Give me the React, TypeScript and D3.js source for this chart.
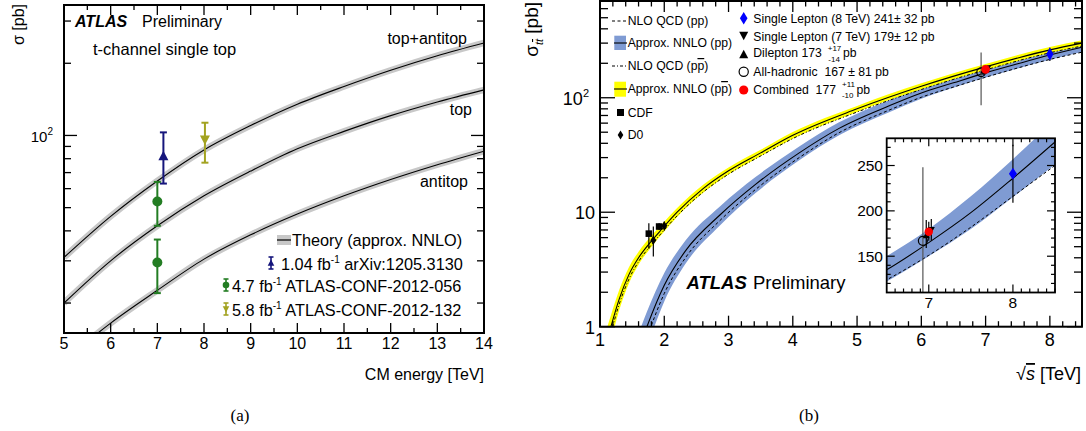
import React from 'react';
import * as d3 from 'd3';

const FONT = "'Liberation Sans', Arial, Helvetica, sans-serif";
const SERIF = "'Liberation Serif', 'DejaVu Serif', serif";

// ===== Panel (a): t-channel single top =====
const energiesA = [5, 6, 7, 8, 9, 10, 11, 12, 13, 14];
const sigmaTopAntitop = [31, 46, 64.6, 87, 110, 135, 160, 187, 215, 243];
const sigmaTop = [20, 30, 42, 56, 71, 88, 104, 121, 138, 155];
const sigmaAntitop = [11.5, 16.5, 22.6, 30.5, 38.5, 47, 56, 65.5, 75.5, 86];
const curveNames = ['top+antitop', 'top', 'antitop'];

const measE = [7.13, 7.0, 7.0, 8.02];
const measValue = [82, 53, 29.5, 96];
const measHigh = [103, 64, 36.8, 113];
const measLow = [63, 42, 22, 77];
const measColor = ['#16167c', '#237d23', '#237d23', '#a3a321'];
const measShape = ['up', 'circle', 'circle', 'down'];

const legendALumi = ['1.04', '4.7', '5.8'];
const legendARef = ['arXiv:1205.3130', 'ATLAS-CONF-2012-056', 'ATLAS-CONF-2012-132'];
const legendAColor = ['#16167c', '#237d23', '#a3a321'];
const legendAShape = ['up', 'circle', 'down'];

// ===== Panel (b): ttbar cross-section =====
const ppE = [1.55, 1.73, 2.0, 2.33, 2.87, 3.42, 4.1, 4.72, 5.5, 6.0, 6.5, 7.0, 7.5, 8.0, 8.5];
const ppNNLO = [0.52, 1.0, 2.3, 4.6, 9.5, 17.5, 33, 54, 85, 110, 135, 165, 198, 236, 276];
const ppNNLOHi = [0.73, 1.35, 2.94, 5.66, 11.3, 20.3, 37.6, 61, 95.2, 122, 150, 180, 216, 257, 301];
const ppNNLOLo = [0.31, 0.65, 1.66, 3.54, 7.7, 14.7, 28.4, 47, 74.8, 98, 122, 150, 180, 215, 251];
const ppNLO = [0.4, 0.8, 1.95, 4.0, 8.5, 15.8, 30, 49.5, 78, 101, 124, 151, 182, 216, 250];

const ppbarE = [1.1, 1.17, 1.3, 1.45, 1.6, 1.8, 1.96, 2.2, 2.6, 3.0, 3.5, 4.0, 5.0, 6.0, 7.0, 8.0, 8.5];
const ppbarNNLO = [0.72, 1.0, 1.75, 2.85, 4.0, 5.6, 7.1, 10.0, 16.0, 23.0, 33, 47, 80, 126, 186, 262, 300];
const ppbarNNLOHi = [0.94, 1.26, 2.1, 3.31, 4.52, 6.22, 7.81, 10.9, 17.3, 24.6, 35.1, 50.1, 84.8, 133.6, 197, 278, 318];
const ppbarNNLOLo = [0.5, 0.74, 1.4, 2.39, 3.48, 4.98, 6.39, 9.1, 14.7, 21.4, 30.9, 43.9, 75.2, 118.4, 175, 246, 282];
const ppbarNLO = [0.62, 0.88, 1.58, 2.6, 3.7, 5.2, 6.6, 9.3, 14.9, 21.5, 31, 44, 75, 118, 175, 247, 283];

const cdfE = [1.76, 1.92];
const cdfValue = [6.5, 7.5];
const cdfUp = [1.5, 0.5];
const cdfDown = [1.7, 0.5];
const d0E = [1.83, 2.0];
const d0Value = [5.7, 7.6];
const d0Up = [1.8, 0.7];
const d0Down = [1.6, 0.7];

// LHC measurements: single lepton 8 TeV, single lepton 7 TeV, dilepton, all-hadronic, combined
const lhcE = [8.0, 7.03, 6.97, 6.93, 7.0];
const lhcValue = [241, 179, 173, 167, 177];
const lhcUp = [32, 12, 17, 81, 11];
const lhcDown = [32, 12, 14, 81, 10];

const triUp = (cx: number, cy: number, s: number) =>
  `M${cx},${cy - s * 1.05} L${cx + s},${cy + s * 0.85} L${cx - s},${cy + s * 0.85}Z`;
const triDown = (cx: number, cy: number, s: number) =>
  `M${cx},${cy + s * 1.05} L${cx + s},${cy - s * 0.85} L${cx - s},${cy - s * 0.85}Z`;
const diamond = (cx: number, cy: number, w: number, h: number) =>
  `M${cx},${cy - h} L${cx + w},${cy} L${cx},${cy + h} L${cx - w},${cy}Z`;

function Marker({ shape, x, y, s, color }: any) {
  if (shape === 'circle') return <circle cx={x} cy={y} r={s} fill={color} />;
  if (shape === 'up') return <path d={triUp(x, y, s)} fill={color} />;
  return <path d={triDown(x, y, s)} fill={color} />;
}

function ErrBar({ x, y1, y2, cap, color, w }: any) {
  return (
    <g stroke={color} strokeWidth={w}>
      <line x1={x} x2={x} y1={y1} y2={y2} />
      {cap > 0 && <line x1={x - cap} x2={x + cap} y1={y1} y2={y1} />}
      {cap > 0 && <line x1={x - cap} x2={x + cap} y1={y2} y2={y2} />}
    </g>
  );
}

function PBar() {
  return (
    <>
      p<tspan style={{ textDecoration: 'overline' }}>p</tspan>
    </>
  );
}

export default function App() {
  const A = { l: 64, r: 484, t: 5, b: 333 };
  const B = { l: 600, r: 1082, t: 1, b: 326.7 };
  const I = { l: 886.7, r: 1055, t: 138.3, b: 292.5 };

  const xA = d3.scaleLinear().domain([5, 14]).range([A.l, A.r]);
  const yA = d3.scaleLog().domain([15, 350]).range([A.b, A.t]);
  const xB = d3.scaleLinear().domain([1, 8.5]).range([B.l, B.r]);
  const yB = d3.scaleLog().domain([1, 700]).range([B.b, B.t]);
  const xI = d3.scaleLinear().domain([6.5, 8.5]).range([I.l, I.r]);
  const yI = d3.scaleLinear().domain([110, 280]).range([I.b, I.t]);

  const mkLine = (xs: number[], ys: number[], xs_: any, ys_: any) =>
    d3.line<number>().x((_, i) => xs_(xs[i])).y((d) => ys_(d)).curve(d3.curveMonotoneX)(ys) as string;
  const mkArea = (xs: number[], lo: number[], hi: number[], xs_: any, ys_: any) =>
    d3.area<number>().x((_, i) => xs_(xs[i])).y0((_, i) => ys_(lo[i])).y1((d) => ys_(d)).curve(d3.curveMonotoneX)(hi) as string;

  const xMajA = d3.range(5, 14.01, 1);
  const xMinA = d3.range(5.5, 14, 1);
  const yMinA = [20, 30, 40, 50, 60, 70, 80, 90, 200, 300];
  const xMajB = d3.range(1, 8.01, 1);
  const xMinB = d3.range(1, 8.5, 0.2).filter((v) => Math.abs(v - Math.round(v)) > 0.01);
  const yMinB: number[] = [];
  [1, 10, 100].forEach((d) => { for (let k = 2; k <= 9; k++) if (k * d < 700) yMinB.push(k * d); });
  const xMinI = d3.range(6.6, 8.5, 0.1).filter((v) => Math.abs(v - Math.round(v)) > 0.01);
  const yMinI = d3.range(120, 280, 10).filter((v) => v % 50 !== 0);

  const ins = ppE.map((e, i) => i).filter((i) => ppE[i] >= 6.0);
  const pick = (arr: number[]) => ins.map((i) => arr[i]);

  const curvesA = [sigmaTopAntitop, sigmaTop, sigmaAntitop];
  const labelPosA = [[467, 44], [472, 115], [468, 187]];

  return (
    <svg width={1086} height={431} style={{ position: 'absolute', left: 0, top: 0, background: '#fff' }} fontFamily={FONT}>
      <defs>
        <clipPath id="clipA"><rect x={A.l} y={A.t} width={A.r - A.l} height={A.b - A.t} /></clipPath>
        <clipPath id="clipB"><rect x={B.l} y={B.t} width={B.r - B.l} height={B.b - B.t} /></clipPath>
        <clipPath id="clipI"><rect x={I.l} y={I.t} width={I.r - I.l} height={I.b - I.t} /></clipPath>
      </defs>
      <rect x={0} y={0} width={1086} height={431} fill="#fff" />

      {/* ================= PANEL A ================= */}
      <g clipPath="url(#clipA)">
        {curvesA.map((c, i) => (
          <path key={'b' + i} d={mkLine(energiesA, c, xA, yA)} fill="none" stroke="#c8c8c8" strokeWidth={6.5} />
        ))}
        {curvesA.map((c, i) => (
          <path key={'l' + i} d={mkLine(energiesA, c, xA, yA)} fill="none" stroke="#000" strokeWidth={1.1} />
        ))}
        {measE.map((e, i) => (
          <g key={'m' + i}>
            <ErrBar x={xA(e)} y1={yA(measHigh[i])} y2={yA(measLow[i])} cap={3.5} color={measColor[i]} w={2} />
            <Marker shape={measShape[i]} x={xA(e)} y={yA(measValue[i])} s={5} color={measColor[i]} />
          </g>
        ))}
      </g>
      <g stroke="#000" strokeWidth={1.3}>
        {xMajA.map((v) => (
          <g key={'xa' + v}>
            <line x1={xA(v)} x2={xA(v)} y1={A.b} y2={A.b - 10} />
            <line x1={xA(v)} x2={xA(v)} y1={A.t} y2={A.t + 10} />
          </g>
        ))}
        {xMinA.map((v) => (
          <g key={'xma' + v}>
            <line x1={xA(v)} x2={xA(v)} y1={A.b} y2={A.b - 5} />
            <line x1={xA(v)} x2={xA(v)} y1={A.t} y2={A.t + 5} />
          </g>
        ))}
        <line x1={A.l} x2={A.l + 13} y1={yA(100)} y2={yA(100)} />
        <line x1={A.r} x2={A.r - 13} y1={yA(100)} y2={yA(100)} />
        {yMinA.map((v) => (
          <g key={'yma' + v}>
            <line x1={A.l} x2={A.l + 7} y1={yA(v)} y2={yA(v)} />
            <line x1={A.r} x2={A.r - 7} y1={yA(v)} y2={yA(v)} />
          </g>
        ))}
      </g>
      <rect x={A.l} y={A.t} width={A.r - A.l} height={A.b - A.t} fill="none" stroke="#000" strokeWidth={2} />
      <g fontSize={16} textAnchor="middle" fill="#000">
        {xMajA.map((v) => (
          <text key={'xla' + v} x={xA(v)} y={349}>{v}</text>
        ))}
      </g>
      <text x={53} y={yA(100) + 7} fontSize={15} textAnchor="end">10<tspan dy={-7} fontSize={10}>2</tspan></text>
      <text x={484} y={380} fontSize={16} textAnchor="end">CM energy [TeV]</text>
      <text transform="translate(24,4) rotate(-90)" fontSize={16} textAnchor="end">σ [pb]</text>
      <text x={75} y={27} fontSize={16} fontWeight="bold" fontStyle="italic">ATLAS</text>
      <text x={142} y={27} fontSize={16}>Preliminary</text>
      <text x={93} y={55} fontSize={16.5}>t-channel single top</text>
      {curveNames.map((n, i) => (
        <text key={n} x={labelPosA[i][0]} y={labelPosA[i][1]} fontSize={16} textAnchor="end">{n}</text>
      ))}
      <rect x={277} y={235} width={14} height={10} fill="#c8c8c8" />
      <line x1={277} x2={291} y1={240} y2={240} stroke="#000" strokeWidth={1.2} />
      <text x={292} y={246} fontSize={16.3}>Theory (approx. NNLO)</text>
      {legendALumi.map((l, i) => {
        const yc = [263, 285, 309][i];
        const xs = [271, 226, 226][i];
        const xt = [281, 232, 232][i];
        return (
          <g key={'la' + i}>
            <ErrBar x={xs} y1={yc - 6} y2={yc + 6} cap={2.5} color={legendAColor[i]} w={1.6} />
            <Marker shape={legendAShape[i]} x={xs} y={yc} s={3.3} color={legendAColor[i]} />
            <text x={xt} y={yc + 7} fontSize={16.3}>
              {l} fb<tspan dy={-7} fontSize={10}>-1</tspan><tspan dy={7}> {legendARef[i]}</tspan>
            </text>
          </g>
        );
      })}
      <text x={240} y={421} fontSize={17} fontFamily={SERIF} textAnchor="middle">(a)</text>

      {/* ================= PANEL B ================= */}
      <g clipPath="url(#clipB)">
        <path d={mkArea(ppE, ppNNLOLo, ppNNLOHi, xB, yB)} fill="#7f9bd3" />
        <path d={mkArea(ppbarE, ppbarNNLOLo, ppbarNNLOHi, xB, yB)} fill="#ffff00" />
        <path d={mkLine(ppE, ppNLO, xB, yB)} fill="none" stroke="#000" strokeWidth={1} strokeDasharray="3,2.5" />
        <path d={mkLine(ppE, ppNNLO, xB, yB)} fill="none" stroke="#000" strokeWidth={1.1} />
        <path d={mkLine(ppbarE, ppbarNLO, xB, yB)} fill="none" stroke="#000" strokeWidth={1} strokeDasharray="3,2,1,2" />
        <path d={mkLine(ppbarE, ppbarNNLO, xB, yB)} fill="none" stroke="#000" strokeWidth={1.1} />
        {cdfE.map((e, i) => (
          <g key={'cdf' + i}>
            <ErrBar x={xB(e)} y1={yB(cdfValue[i] + cdfUp[i])} y2={yB(cdfValue[i] - cdfDown[i])} cap={0} color="#000" w={1.2} />
            <rect x={xB(e) - 3.3} y={yB(cdfValue[i]) - 3.3} width={6.6} height={6.6} fill="#000" />
          </g>
        ))}
        {d0E.map((e, i) => (
          <g key={'d0' + i}>
            <ErrBar x={xB(e)} y1={yB(d0Value[i] + d0Up[i])} y2={yB(d0Value[i] - d0Down[i])} cap={0} color="#000" w={1.2} />
            <path d={diamond(xB(e), yB(d0Value[i]), 3, 4.5)} fill="#000" />
          </g>
        ))}
        <ErrBar x={xB(lhcE[3])} y1={yB(lhcValue[3] + lhcUp[3])} y2={yB(lhcValue[3] - lhcDown[3])} cap={0} color="#555" w={1.2} />
        {[2, 1, 4, 0].map((i) => (
          <ErrBar key={'lb' + i} x={xB(lhcE[i])} y1={yB(lhcValue[i] + lhcUp[i])} y2={yB(lhcValue[i] - lhcDown[i])} cap={0} color="#000" w={1.2} />
        ))}
        <path d={triUp(xB(lhcE[2]), yB(lhcValue[2]), 3.5)} fill="#000" />
        <path d={triDown(xB(lhcE[1]), yB(lhcValue[1]), 3.5)} fill="#000" />
        <circle cx={xB(lhcE[3])} cy={yB(lhcValue[3])} r={4.3} fill="none" stroke="#000" strokeWidth={1.2} />
        <circle cx={xB(lhcE[4])} cy={yB(lhcValue[4])} r={4.3} fill="#ff0000" />
        <path d={diamond(xB(lhcE[0]), yB(lhcValue[0]), 3.6, 6.5)} fill="#0000ff" />
      </g>
      <g stroke="#000" strokeWidth={1.3}>
        {xMajB.map((v) => (
          <g key={'xb' + v}>
            <line x1={xB(v)} x2={xB(v)} y1={B.b} y2={B.b - 11} />
            <line x1={xB(v)} x2={xB(v)} y1={B.t} y2={B.t + 11} />
          </g>
        ))}
        {xMinB.map((v) => (
          <g key={'xmb' + v.toFixed(1)}>
            <line x1={xB(v)} x2={xB(v)} y1={B.b} y2={B.b - 5.5} />
            <line x1={xB(v)} x2={xB(v)} y1={B.t} y2={B.t + 5.5} />
          </g>
        ))}
        {[1, 10, 100].map((v) => (
          <g key={'yb' + v}>
            <line x1={B.l} x2={B.l + 15} y1={yB(v)} y2={yB(v)} />
            <line x1={B.r} x2={B.r - 15} y1={yB(v)} y2={yB(v)} />
          </g>
        ))}
        {yMinB.map((v) => (
          <g key={'ymb' + v}>
            <line x1={B.l} x2={B.l + 8} y1={yB(v)} y2={yB(v)} />
            <line x1={B.r} x2={B.r - 8} y1={yB(v)} y2={yB(v)} />
          </g>
        ))}
      </g>
      <rect x={B.l} y={B.t} width={B.r - B.l} height={B.b - B.t} fill="none" stroke="#000" strokeWidth={2} />
      <g fontSize={18} textAnchor="middle">
        {xMajB.map((v) => (
          <text key={'xlb' + v} x={xB(v)} y={346}>{v}</text>
        ))}
      </g>
      <text x={595} y={yB(1) + 7} fontSize={18} textAnchor="end">1</text>
      <text x={595} y={yB(10) + 7} fontSize={18} textAnchor="end">10</text>
      <text x={589} y={yB(100) + 7} fontSize={18} textAnchor="end">10<tspan dy={-8} fontSize={11}>2</tspan></text>
      <text x={1081} y={380} fontSize={18} textAnchor="end">
        √<tspan fontStyle="italic" style={{ textDecoration: 'overline' }}>s</tspan> [TeV]
      </text>
      <text transform="translate(538,2) rotate(-90)" fontSize={19} textAnchor="end">
        σ<tspan dy={5} fontSize={11} fontStyle="italic">t</tspan><tspan fontSize={11} fontStyle="italic" style={{ textDecoration: 'overline' }}>t</tspan><tspan dy={-5}> [pb]</tspan>
      </text>
      <text x={686.5} y={289} fontSize={18.5} fontWeight="bold" fontStyle="italic">ATLAS</text>
      <text x={753} y={289} fontSize={18.5}>Preliminary</text>

      {/* legend B left column */}
      <g fontSize={12.2}>
        <line x1={612} x2={626} y1={21} y2={21} stroke="#000" strokeWidth={1} strokeDasharray="3,2.5" />
        <text x={627.7} y={25}>NLO QCD (pp)</text>
        <rect x={614.3} y={35.7} width={11.7} height={14.3} fill="#7f9bd3" />
        <line x1={614} x2={627} y1={43} y2={43} stroke="#000" strokeWidth={1.1} />
        <text x={627.7} y={47}>Approx. NNLO (pp)</text>
        <line x1={612} x2={626} y1={66} y2={66} stroke="#000" strokeWidth={1} strokeDasharray="3,2,1,2" />
        <text x={627.7} y={70}>NLO QCD (<PBar />)</text>
        <rect x={614.3} y={81.7} width={11.7} height={15} fill="#ffff00" />
        <line x1={614} x2={627} y1={89} y2={89} stroke="#000" strokeWidth={1.1} />
        <text x={627.7} y={93}>Approx. NNLO (<PBar />)</text>
        <rect x={617} y={109} width={7} height={7} fill="#000" />
        <text x={627.7} y={116.5}>CDF</text>
        <path d={diamond(620.5, 135, 2.8, 4.5)} fill="#000" />
        <text x={627.7} y={139}>D0</text>
      </g>
      {/* legend B right column */}
      <g fontSize={12.2}>
        <path d={diamond(743.7, 18.3, 3.8, 6.3)} fill="#0000ff" />
        <text x={753.3} y={22.5}>Single Lepton (8 TeV) 241± 32 pb</text>
        <path d={triDown(743.7, 35.5, 4.5)} fill="#000" />
        <text x={753.3} y={40.5}>Single Lepton (7 TeV) 179± 12 pb</text>
        <path d={triUp(743.7, 54.5, 4.5)} fill="#000" />
        <text x={753.3} y={57.3}>
          Dilepton 173
          <tspan dx={6} dy={-6} fontSize={8}>+17</tspan>
          <tspan dx={-13} dy={11} fontSize={8}>-14</tspan>
          <tspan dx={3} dy={-5}>pb</tspan>
        </text>
        <circle cx={743.7} cy={71.7} r={4.6} fill="none" stroke="#000" strokeWidth={1.2} />
        <text x={753.3} y={76}>{'All-hadronic\u00a0\u00a0167 ± 81 pb'}</text>
        <circle cx={743.7} cy={90} r={4.6} fill="#ff0000" />
        <text x={753.3} y={94.3}>
          {'Combined\u00a0\u00a0177'}
          <tspan dx={6} dy={-7} fontSize={8}>+11</tspan>
          <tspan dx={-13} dy={11} fontSize={8}>-10</tspan>
          <tspan dx={3} dy={-4}>pb</tspan>
        </text>
      </g>

      {/* ================= INSET ================= */}
      <rect x={I.l} y={I.t} width={I.r - I.l} height={I.b - I.t} fill="#fff" />
      <g clipPath="url(#clipI)">
        <path d={mkArea(pick(ppE), pick(ppNNLOLo), pick(ppNNLOHi), xI, yI)} fill="#7f9bd3" />
        <path d={mkLine(pick(ppE), pick(ppNLO), xI, yI)} fill="none" stroke="#000" strokeWidth={1} strokeDasharray="3,2.5" />
        <path d={mkLine(pick(ppE), pick(ppNNLO), xI, yI)} fill="none" stroke="#000" strokeWidth={1.1} />
        <ErrBar x={xI(lhcE[3])} y1={yI(lhcValue[3] + lhcUp[3])} y2={yI(lhcValue[3] - lhcDown[3])} cap={0} color="#555" w={1.2} />
        {[2, 1, 4, 0].map((i) => (
          <ErrBar key={'li' + i} x={xI(lhcE[i])} y1={yI(lhcValue[i] + lhcUp[i])} y2={yI(lhcValue[i] - lhcDown[i])} cap={0} color="#000" w={1.2} />
        ))}
        <path d={triUp(xI(lhcE[2]), yI(lhcValue[2]), 3.5)} fill="#000" />
        <path d={triDown(xI(lhcE[1]), yI(lhcValue[1]), 3.5)} fill="#000" />
        <circle cx={xI(lhcE[3])} cy={yI(lhcValue[3])} r={4.5} fill="none" stroke="#000" strokeWidth={1.2} />
        <circle cx={xI(lhcE[4])} cy={yI(lhcValue[4])} r={4.2} fill="#ff0000" />
        <path d={diamond(xI(lhcE[0]), yI(lhcValue[0]), 4, 6)} fill="#0000ff" />
      </g>
      <g stroke="#000" strokeWidth={1.2}>
        {[7, 8].map((v) => (
          <g key={'xi' + v}>
            <line x1={xI(v)} x2={xI(v)} y1={I.b} y2={I.b - 8} />
            <line x1={xI(v)} x2={xI(v)} y1={I.t} y2={I.t + 8} />
          </g>
        ))}
        {xMinI.map((v) => (
          <g key={'xmi' + v.toFixed(1)}>
            <line x1={xI(v)} x2={xI(v)} y1={I.b} y2={I.b - 4} />
            <line x1={xI(v)} x2={xI(v)} y1={I.t} y2={I.t + 4} />
          </g>
        ))}
        {[150, 200, 250].map((v) => (
          <g key={'yi' + v}>
            <line x1={I.l} x2={I.l + 8} y1={yI(v)} y2={yI(v)} />
            <line x1={I.r} x2={I.r - 8} y1={yI(v)} y2={yI(v)} />
          </g>
        ))}
        {yMinI.map((v) => (
          <g key={'ymi' + v}>
            <line x1={I.l} x2={I.l + 4} y1={yI(v)} y2={yI(v)} />
            <line x1={I.r} x2={I.r - 4} y1={yI(v)} y2={yI(v)} />
          </g>
        ))}
      </g>
      <rect x={I.l} y={I.t} width={I.r - I.l} height={I.b - I.t} fill="none" stroke="#000" strokeWidth={1.8} />
      <g fontSize={15.5}>
        {[7, 8].map((v) => (
          <text key={'xli' + v} x={xI(v)} y={308} textAnchor="middle">{v}</text>
        ))}
        {[150, 200, 250].map((v) => (
          <text key={'yli' + v} x={883} y={yI(v) + 5.5} textAnchor="end">{v}</text>
        ))}
      </g>
      <text x={809} y={421} fontSize={17} fontFamily={SERIF} textAnchor="middle">(b)</text>
    </svg>
  );
}
